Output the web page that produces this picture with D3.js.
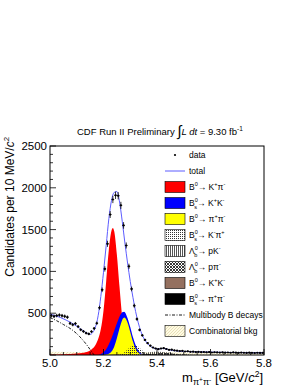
<!DOCTYPE html>
<html>
<head>
<meta charset="utf-8">
<script src="https://d3js.org/d3.v7.min.js"></script>
<style>
  body { margin: 0; background: #fff; }
  svg { display: block; font-family: "Liberation Sans", Arial, Helvetica, sans-serif; }
</style>
</head>
<body>
<div id="chart"></div>
<script>
// histogram: 10 MeV bins from 5.00 to 5.80 GeV/c^2
const binStart = 5.0, binWidth = 0.01;
const dataCounts = [470,462,472,478,470,463,452,378,362,376,
                    340,302,282,262,252,280,318,380,565,780,
                    1030,1330,1680,1860,1910,1905,1790,1550,1310,1060,
                    790,590,430,300,235,180,142,112,90,78,
                    70,78,82,72,62,64,55,52,47,50,
                    42,45,38,40,36,38,34,36,32,35,
                    30,33,31,29,32,28,30,27,31,28,
                    26,29,27,25,28,26,24,27,25,26];

// fit total
const totalMass = [5.00,5.02,5.04,5.06,5.08,5.10,5.12,5.14,5.15,5.16,5.17,5.18,5.19,5.20,5.21,5.22,5.23,5.24,5.25,5.26,5.27,5.28,5.29,5.30,5.31,5.32,5.33,5.34,5.35,5.36,5.37,5.38,5.39,5.40,5.41,5.42,5.43,5.44,5.45,5.47,5.50,5.55,5.60,5.65,5.70,5.75,5.80];
const totalFit  = [490,470,447,418,385,345,300,258,246,270,335,470,700,990,1310,1630,1850,1945,1955,1830,1600,1340,1100,880,690,520,385,280,205,155,120,95,80,72,74,78,76,68,60,50,43,37,34,31,29,27,26];

// components
const redMass = [5.00,5.05,5.10,5.12,5.14,5.15,5.16,5.17,5.18,5.19,5.20,5.21,5.22,5.23,5.235,5.24,5.25,5.26,5.27,5.28,5.29,5.30,5.31,5.32,5.33];
const redVal  = [5,8,18,25,40,55,80,120,190,310,530,880,1260,1490,1520,1480,1200,810,450,210,85,30,10,3,0];

const blueMass = [5.18,5.19,5.20,5.21,5.22,5.23,5.24,5.25,5.26,5.27,5.277,5.28,5.29,5.30,5.31,5.32,5.33,5.34,5.35,5.36];
const blueVal  = [0,10,35,70,130,200,290,380,460,510,518,512,440,335,215,120,55,18,5,0];

const yellowMass = [5.20,5.21,5.22,5.23,5.24,5.25,5.26,5.27,5.278,5.29,5.30,5.31,5.32,5.33,5.34,5.35];
const yellowVal  = [2,6,15,42,100,200,320,420,448,385,275,160,75,28,8,0];

const bsKpiMass = [5.25,5.26,5.27,5.28,5.29,5.30,5.31,5.32,5.33,5.34,5.35,5.36,5.37,5.38];
const bsKpiVal  = [0,5,15,35,65,95,118,120,100,70,40,18,6,0];

const lbpKMass = [5.30,5.33,5.35,5.37,5.39,5.41,5.43,5.45,5.47,5.50,5.53,5.56];
const lbpKVal  = [0,8,20,32,38,38,33,25,16,8,3,0];

const lbppiMass = [5.36,5.38,5.40,5.42,5.44,5.46,5.48,5.50,5.52];
const lbppiVal  = [0,6,16,26,24,14,6,2,0];

const b0KKMass = [5.20,5.23,5.25,5.27,5.30];
const b0KKVal  = [0,4,6,3,0];

const bsPiPiMass = [5.33,5.35,5.37,5.39,5.41];
const bsPiPiVal  = [0,5,8,4,0];

const multiMass = [5.00,5.025,5.05,5.075,5.10,5.125,5.14,5.15,5.16,5.165];
const multiVal  = [448,410,365,318,255,170,110,65,20,0];

const combMass = [5.0,5.2,5.4,5.6,5.8];
const combVal  = [40,36,32,28,25];

const yTicks = [500,1000,1500,2000,2500];
const xTicks = [5.0,5.2,5.4,5.6,5.8];

const W = 300, H = 388;
const svg = d3.select("#chart").append("svg").attr("width", W).attr("height", H);

const x = d3.scaleLinear().domain([5.0, 5.8]).range([50, 264]);
const y = d3.scaleLinear().domain([0, 2500]).range([355, 146]);

// patterns
const defs = svg.append("defs");
const pKpi = defs.append("pattern").attr("id", "pKpi").attr("width", 2).attr("height", 2).attr("patternUnits", "userSpaceOnUse");
pKpi.append("rect").attr("width", 1).attr("height", 1).attr("fill", "#333");
const pLpK = defs.append("pattern").attr("id", "pLpK").attr("width", 2).attr("height", 2).attr("patternUnits", "userSpaceOnUse");
pLpK.append("rect").attr("width", 1).attr("height", 2).attr("fill", "#555");
const pLppi = defs.append("pattern").attr("id", "pLppi").attr("width", 3).attr("height", 3).attr("patternUnits", "userSpaceOnUse");
pLppi.append("path").attr("d", "M0,0L3,3M3,0L0,3").attr("stroke", "#222").attr("stroke-width", 0.9);
const pComb = defs.append("pattern").attr("id", "pComb").attr("width", 3).attr("height", 3).attr("patternUnits", "userSpaceOnUse");
pComb.append("rect").attr("width", 3).attr("height", 3).attr("fill", "#fffbe3");
pComb.append("path").attr("d", "M0,3L3,0").attr("stroke", "#d9cf9c").attr("stroke-width", 0.6);

defs.append("clipPath").attr("id", "plotClip")
  .append("rect").attr("x", 50).attr("y", 146).attr("width", 214).attr("height", 209);

const plot = svg.append("g").attr("clip-path", "url(#plotClip)");

const area = d3.area().curve(d3.curveMonotoneX)
  .x(d => x(d[0])).y0(y(0)).y1(d => y(d[1]));
const line = d3.line().curve(d3.curveMonotoneX)
  .x(d => x(d[0])).y(d => y(d[1]));

const pairs = (m, v) => m.map((d, i) => [d, v[i]]);

// combinatorial background band
plot.append("path").datum(pairs(combMass, combVal)).attr("d", area)
  .attr("fill", "url(#pComb)");

// filled components
const comps = [
  [redMass, redVal, "#ff0000"],
  [blueMass, blueVal, "#0000ff"],
  [yellowMass, yellowVal, "#ffff00"],
  [b0KKMass, b0KKVal, "#94705f"],
  [bsKpiMass, bsKpiVal, "url(#pKpi)"],
  [lbpKMass, lbpKVal, "url(#pLpK)"],
  [lbppiMass, lbppiVal, "url(#pLppi)"],
  [bsPiPiMass, bsPiPiVal, "#000"]
];
comps.forEach(([m, v, f]) => {
  plot.append("path").datum(pairs(m, v)).attr("d", area).attr("fill", f);
});

// multibody B decays
plot.append("path").datum(pairs(multiMass, multiVal)).attr("d", line)
  .attr("fill", "none").attr("stroke", "#000").attr("stroke-width", 0.9)
  .attr("stroke-dasharray", "3,1.5,1,1.5");

// total fit
plot.append("path").datum(pairs(totalMass, totalFit)).attr("d", line)
  .attr("fill", "none").attr("stroke", "#5c5cff").attr("stroke-width", 1);

// data points with error bars
const pts = plot.append("g").selectAll("g")
  .data(dataCounts.map((c, i) => [binStart + binWidth * (i + 0.5), c]))
  .join("g");
pts.append("line")
  .attr("x1", d => x(d[0])).attr("x2", d => x(d[0]))
  .attr("y1", d => y(d[1] + Math.sqrt(d[1]))).attr("y2", d => y(d[1] - Math.sqrt(d[1])))
  .attr("stroke", "#000").attr("stroke-width", 0.8);
pts.append("line")
  .attr("x1", d => x(d[0] - binWidth / 2)).attr("x2", d => x(d[0] + binWidth / 2))
  .attr("y1", d => y(d[1])).attr("y2", d => y(d[1]))
  .attr("stroke", "#000").attr("stroke-width", 0.8);
pts.append("circle").attr("cx", d => x(d[0])).attr("cy", d => y(d[1])).attr("r", 1.1).attr("fill", "#000");

// frame
svg.append("rect").attr("x", 50).attr("y", 146).attr("width", 214).attr("height", 209)
  .attr("fill", "none").attr("stroke", "#000").attr("stroke-width", 1);

// y axis ticks (inside)
const yAx = svg.append("g").attr("stroke", "#000").attr("stroke-width", 0.8);
d3.range(0, 2501, 100).forEach(v => {
  const len = v % 500 === 0 ? 6 : 3;
  yAx.append("line").attr("x1", 50).attr("x2", 50 + len).attr("y1", y(v)).attr("y2", y(v));
});
svg.append("g").selectAll("text").data(yTicks).join("text")
  .attr("x", 47).attr("y", d => y(d) + 4).attr("text-anchor", "end")
  .attr("font-size", 11.5).text(d => d);

// x axis ticks (inside)
const xAx = svg.append("g").attr("stroke", "#000").attr("stroke-width", 0.8);
d3.range(0, 17).forEach(i => {
  const v = 5.0 + i * 0.05;
  const len = i % 4 === 0 ? 6 : 3;
  xAx.append("line").attr("x1", x(v)).attr("x2", x(v)).attr("y1", 355).attr("y2", 355 - len);
});
svg.append("g").selectAll("text").data(xTicks).join("text")
  .attr("x", d => x(d)).attr("y", 367).attr("text-anchor", "middle")
  .attr("font-size", 11.5).text(d => d.toFixed(1));

// rich text helper: segments [text, kind, dx]
function rich(sel, segs, size) {
  let cur = 0;
  segs.forEach(([t, k, dx]) => {
    const small = k === "sup" || k === "sub";
    const target = k === "sup" ? -size * 0.42 : k === "sub" ? size * 0.3 : 0;
    const ts = sel.append("tspan").text(t)
      .attr("dy", target - cur)
      .attr("font-size", small ? size * 0.65 : size);
    if (dx) ts.attr("dx", dx);
    if (k === "it") ts.attr("font-style", "italic");
    cur = target;
  });
}

// title
const title = svg.append("text").attr("x", 77).attr("y", 135).attr("font-size", 9.5);
title.append("tspan").text("CDF Run II Preliminary ");
title.append("tspan").text("\u222b").attr("font-size", 15).attr("dy", 1);
title.append("tspan").text("L dt").attr("font-style", "italic").attr("dy", -1);
title.append("tspan").text(" = 9.30 fb");
title.append("tspan").text("-1").attr("font-size", 6.5).attr("dy", -4);

// y label
const yl = svg.append("text").attr("transform", "translate(14,137) rotate(-90)")
  .attr("text-anchor", "end");
rich(yl, [["Candidates per 10 MeV/", "n"], ["c", "it"], ["2", "sup"]], 12);

// x label
const xl = svg.append("text").attr("x", 263).attr("y", 382).attr("text-anchor", "end").attr("font-size", 13);
xl.append("tspan").text("m");
xl.append("tspan").text("\u03c0").attr("font-size", 9).attr("dy", 3);
xl.append("tspan").text("+").attr("font-size", 6.5).attr("dy", -3.5);
xl.append("tspan").text("\u03c0").attr("font-size", 9).attr("dy", 3.5);
xl.append("tspan").text("-").attr("font-size", 6.5).attr("dy", -3.5);
xl.append("tspan").text(" [GeV/").attr("dy", 0.5);
xl.append("tspan").text("c").attr("font-style", "italic");
xl.append("tspan").text("2").attr("font-size", 8.5).attr("dy", -5);
xl.append("tspan").text("]").attr("dy", 5);

// legend
const legendLabels = [
  [["data", "n"]],
  [["total", "n"]],
  [["B", "n"], ["0", "sup"], ["\u2192 K", "n"], ["+", "sup"], ["\u03c0", "n"], ["-", "sup"]],
  [["B", "n"], ["0", "sup"], ["s", "sub", -3.4], ["\u2192 K", "n"], ["+", "sup"], ["K", "n"], ["-", "sup"]],
  [["B", "n"], ["0", "sup"], ["\u2192 \u03c0", "n"], ["+", "sup"], ["\u03c0", "n"], ["-", "sup"]],
  [["B", "n"], ["0", "sup"], ["s", "sub", -3.4], ["\u2192 K", "n"], ["-", "sup"], ["\u03c0", "n"], ["+", "sup"]],
  [["\u039b", "n"], ["0", "sup"], ["b", "sub", -3.4], ["\u2192 pK", "n"], ["-", "sup"]],
  [["\u039b", "n"], ["0", "sup"], ["b", "sub", -3.4], ["\u2192 p\u03c0", "n"], ["-", "sup"]],
  [["B", "n"], ["0", "sup"], ["\u2192 K", "n"], ["+", "sup"], ["K", "n"], ["-", "sup"]],
  [["B", "n"], ["0", "sup"], ["s", "sub", -3.4], ["\u2192 \u03c0", "n"], ["+", "sup"], ["\u03c0", "n"], ["-", "sup"]],
  [["Multibody B decays", "n"]],
  [["Combinatorial bkg", "n"]]
];
const legendFill = [null, null, "#ff0000", "#0000ff", "#ffff00", "url(#pKpi)", "url(#pLpK)", "url(#pLppi)", "#94705f", "#000", null, "url(#pComb)"];

const lg = svg.append("g");
legendLabels.forEach((segs, i) => {
  const cy = 155 + 16 * i;
  if (i === 0) {
    lg.append("circle").attr("cx", 175).attr("cy", cy).attr("r", 1.1).attr("fill", "#000");
  } else if (i === 1) {
    lg.append("line").attr("x1", 165).attr("x2", 185).attr("y1", cy).attr("y2", cy)
      .attr("stroke", "#5c5cff").attr("stroke-width", 1);
  } else if (i === 10) {
    lg.append("line").attr("x1", 165).attr("x2", 185).attr("y1", cy).attr("y2", cy)
      .attr("stroke", "#000").attr("stroke-width", 0.9).attr("stroke-dasharray", "3,1.5,1,1.5");
  } else {
    lg.append("rect").attr("x", 165).attr("y", cy - 5.5).attr("width", 20).attr("height", 11)
      .attr("fill", "#fff");
    lg.append("rect").attr("x", 165).attr("y", cy - 5.5).attr("width", 20).attr("height", 11)
      .attr("fill", legendFill[i]).attr("stroke", "#000").attr("stroke-width", 0.6);
  }
  const t = lg.append("text").attr("x", 189).attr("y", cy + 3).attr("font-size", 8.5);
  rich(t, segs, 8.5);
});
</script>
</body>
</html>
